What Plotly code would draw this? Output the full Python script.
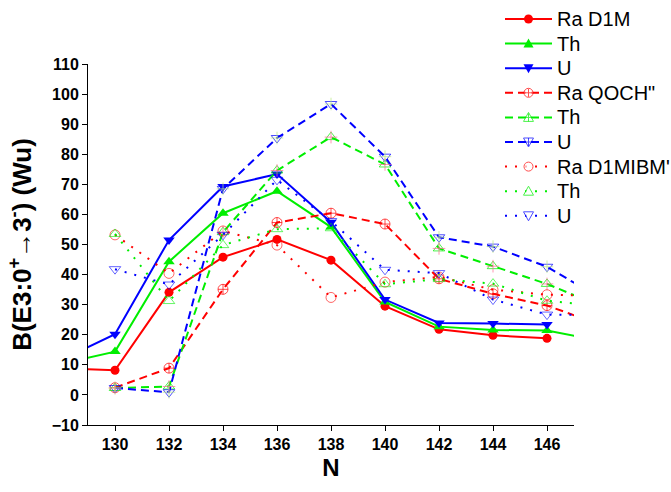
import plotly.graph_objects as go

# ---------------- data ----------------
N_ra_d1m = [128, 130, 132, 134, 136, 138, 140, 142, 144, 146]
ra_d1m = [8.9, 8.2, 34.1, 45.8, 51.7, 44.8, 29.5, 21.8, 19.8, 18.8]

N_th_d1m = [128, 130, 132, 134, 136, 138, 140, 142, 144, 146, 148]
th_d1m = [10.3, 14.4, 44.3, 60.4, 67.7, 55.8, 30.9, 22.7, 21.6, 21.4, 17.9]

N_u_d1m = [128, 130, 132, 134, 136, 138, 140, 142, 144, 146]
u_d1m = [11.6, 20.2, 51.5, 69.3, 73.4, 57.4, 31.7, 23.9, 23.7, 23.4]

N_qoch = [130, 132, 134, 136, 138, 140, 142, 144, 146, 148]
ra_qoch = [2.4, 8.9, 35.1, 57.3, 60.4, 56.8, 38.6, 33.6, 29.7, 23.3]
th_qoch = [2.3, 2.8, 54.1, 74.6, 85.7, 76.6, 48.7, 42.8, 36.9, 29.4]
u_qoch = [2.3, 0.9, 68.5, 85.4, 96.7, 79.2, 52.4, 49.3, 42.6, 32.0]

N_ibm = [130, 132, 134, 136, 138, 140, 142, 144, 146, 148]
ra_ibm = [53.2, 40.4, 54.5, 49.8, 32.4, 37.5, 39.2, 35.0, 33.3, 33.0]
th_ibm = [53.5, 31.2, 49.8, 55.1, 55.4, 36.8, 38.5, 37.0, 31.3, 29.5]
u_ibm = [41.8, 36.7, 53.2, 71.5, 57.8, 41.6, 40.5, 31.7, 26.7, 26.5]

x_ticks = [130, 132, 134, 136, 138, 140, 142, 144, 146]
y_ticks = [-10, 0, 10, 20, 30, 40, 50, 60, 70, 80, 90, 100, 110]

names = ["Ra D1M", "Th", "U", "Ra QOCH\"", "Th", "U", "Ra D1MIBM'", "Th", "U"]

RED = "#FF0000"
GREEN = "#00EE00"
BLUE = "#0000FF"
FONT = "Arial, 'Liberation Sans', sans-serif"

W, H = 671, 492
ML, MR, MT, MB = 88, 97, 64, 67
PW, PH = W - ML - MR, H - MT - MB

DASHED = "8px,5px"
DOTTED = "2px,8px"

fig = go.Figure()

# solid series
for xs, ys, col, sym, sz in [
    (N_ra_d1m, ra_d1m, RED, "circle", 9),
    (N_th_d1m, th_d1m, GREEN, "triangle-up", 10),
    (N_u_d1m, u_d1m, BLUE, "triangle-down", 10),
]:
    fig.add_trace(go.Scatter(
        x=xs, y=ys, mode="lines+markers", showlegend=False,
        line=dict(color=col, width=2),
        marker=dict(symbol=sym, size=sz, color=col, line=dict(width=0)),
    ))

# dashed series
for ys, col, sym in [
    (ra_qoch, RED, "circle-cross-open"),
    (th_qoch, GREEN, "triangle-up-open"),
    (u_qoch, BLUE, "triangle-down-open"),
]:
    fig.add_trace(go.Scatter(
        x=N_qoch, y=ys, mode="lines+markers", showlegend=False,
        line=dict(color=col, width=2, dash=DASHED),
        marker=dict(symbol=sym, size=10, color=col, opacity=0.7,
                    line=dict(width=1, color=col)),
    ))
# crosses inside the dashed triangles
for ys, col in [(th_qoch, GREEN), (u_qoch, BLUE)]:
    fig.add_trace(go.Scatter(
        x=N_qoch, y=ys, mode="markers", showlegend=False, hoverinfo="skip",
        marker=dict(symbol="cross-thin-open", size=9, opacity=0.7,
                    line=dict(width=1, color=col)),
    ))

# dotted series
for ys, col, sym in [
    (ra_ibm, RED, "circle-open"),
    (th_ibm, GREEN, "triangle-up-open"),
    (u_ibm, BLUE, "triangle-down-open"),
]:
    fig.add_trace(go.Scatter(
        x=N_ibm, y=ys, mode="lines+markers", showlegend=False,
        line=dict(color=col, width=2, dash=DOTTED),
        marker=dict(symbol=sym, size=10, color=col, opacity=0.6,
                    line=dict(width=1, color=col)),
    ))

# ---------------- legend (drawn by hand for exact row spacing) ----------------
def px2x(px):
    return (px - ML) / PW


def py2y(py):
    return (H - MB - py) / PH


TRI_UP = "M-5,-4 L5,-4 L0,5 Z"
TRI_DN = "M-5,4 L5,4 L0,-5 Z"
CROSS = "M-4,0 L4,0 M0,-4 L0,4"

legend_rows = [
    (names[0], RED, "solid", "circle", True, False),
    (names[1], GREEN, "solid", "up", True, False),
    (names[2], BLUE, "solid", "down", True, False),
    (names[3], RED, DASHED, "circle", False, True),
    (names[4], GREEN, DASHED, "up", False, True),
    (names[5], BLUE, DASHED, "down", False, True),
    (names[6], RED, DOTTED, "circle", False, False),
    (names[7], GREEN, DOTTED, "up", False, False),
    (names[8], BLUE, DOTTED, "down", False, False),
]

for i, (nm, col, dash, shp, filled, cross) in enumerate(legend_rows):
    yc = 19 + 24.6 * i
    ya = py2y(yc)
    fig.add_shape(type="line", xref="paper", yref="paper",
                  x0=px2x(505), x1=px2x(552), y0=ya, y1=ya,
                  line=dict(color=col, width=2, dash=dash))
    xa = px2x(528.5)
    fill = col if filled else "white"
    common = dict(xref="paper", yref="paper", xsizemode="pixel", ysizemode="pixel",
                  xanchor=xa, yanchor=ya, fillcolor=fill,
                  line=dict(color=col, width=1 if not filled else 0),
                  opacity=1 if filled else 0.7)
    if shp == "circle":
        fig.add_shape(type="circle", x0=-4.5, x1=4.5, y0=-4.5, y1=4.5, **common)
    elif shp == "up":
        fig.add_shape(type="path", path=TRI_UP, **common)
    else:
        fig.add_shape(type="path", path=TRI_DN, **common)
    if cross:
        fig.add_shape(type="path", path=CROSS, xref="paper", yref="paper",
                      xsizemode="pixel", ysizemode="pixel", xanchor=xa, yanchor=ya,
                      line=dict(color=col, width=1), opacity=0.7)
    fig.add_annotation(x=px2x(555), y=ya, xref="paper", yref="paper", text=nm,
                       showarrow=False, xanchor="left", yanchor="middle",
                       font=dict(family=FONT, size=20, color="black"))

axis_common = dict(
    showgrid=False, zeroline=False, showline=True, linecolor="black",
    linewidth=1, ticks="outside", ticklen=5, tickwidth=1, tickcolor="black",
    tickfont=dict(family=FONT, size=16, color="black", weight="bold"),
)

fig.update_layout(
    width=W, height=H,
    paper_bgcolor="white", plot_bgcolor="white",
    margin=dict(l=ML, r=MR, t=MT, b=MB, autoexpand=False),
    font=dict(family=FONT, color="black"),
    xaxis=dict(range=[129, 147], tickvals=x_ticks, **axis_common,
               title=dict(text="N", standoff=6,
                          font=dict(family=FONT, size=24, weight="bold"))),
    yaxis=dict(range=[-10, 110], tickvals=y_ticks, **axis_common,
               title=dict(text="B(E3:0<sup>+</sup>→3<sup>-</sup>) (Wu)", standoff=12,
                          font=dict(family=FONT, size=26, weight="bold"))),
    showlegend=False,
)

fig.write_html("out.html")
